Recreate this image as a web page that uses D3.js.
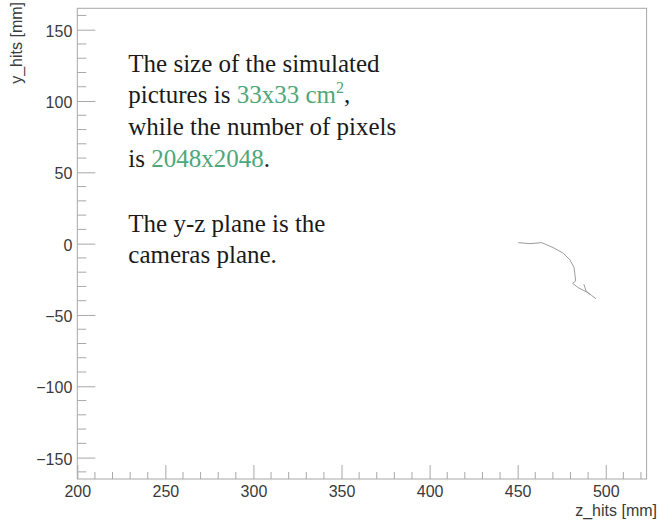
<!DOCTYPE html>
<html>
<head>
<meta charset="utf-8">
<script src="https://cdn.jsdelivr.net/npm/d3@7"></script>
<style>
  body { margin: 0; background: #fff; }
  .axis text { font-family: "Liberation Sans", Arial, sans-serif; fill: #3a3a3a; }
  .note { font-family: "Liberation Serif", "DejaVu Serif", serif; font-size: 25px; fill: #1a1a1a; }
  .green { fill: #4ea77a; }
</style>
</head>
<body>
<div id="chart"></div>
<script>
// track hits in the y-z plane (mm)
const trackZ = [450.3, 457.0, 463.6, 470.2, 475.9, 479.7, 482.0, 482.5, 482.9, 481.2, 484.4, 489.2, 492.0, 494.5];
const trackY = [0.7, 0.0, 0.7, -2.8, -6.7, -11.4, -16.8, -21.4, -26.2, -27.8, -30.9, -33.9, -36.3, -38.7];
// short side branch near the end of the track
const branchZ = [487.6, 488.8, 491.0];
const branchY = [-28.4, -33.1, -35.5];

const zDomain = [200, 523.2];
const yDomain = [-165, 165];
const xTicks = [200, 250, 300, 350, 400, 450, 500];
const yTicks = [-150, -100, -50, 0, 50, 100, 150];

const W = 660, H = 521;
const frame = {left: 77.3, right: 646.6, top: 8.3, bottom: 479};

const svg = d3.select("#chart").append("svg")
    .attr("width", W)
    .attr("height", H);

let x = d3.scaleLinear().domain(zDomain).range([frame.left, frame.right]);
let y = d3.scaleLinear().domain(yDomain).range([frame.bottom, frame.top]);

const lineCol = "#a8a8a8";

// frame
svg.append("rect")
    .attr("x", frame.left).attr("y", frame.top)
    .attr("width", frame.right - frame.left)
    .attr("height", frame.bottom - frame.top)
    .attr("fill", "none")
    .attr("stroke", lineCol)
    .attr("stroke-width", 1);

// minor ticks every 10 mm
const xMinor = d3.range(210, 523, 10).filter(v => v % 50 != 0);
const yMinor = d3.range(-160, 165, 10).filter(v => v % 50 != 0);

// x axis
let gx = svg.append("g")
    .attr("class", "axis")
    .attr("transform", "translate(0," + frame.bottom + ")");
gx.call(d3.axisBottom(x).tickValues(xTicks).tickSize(-14).tickPadding(6.5).tickFormat(d3.format("d")));
gx.call(g => g.select(".domain").remove());
gx.selectAll(".tick line").attr("stroke", lineCol);
gx.selectAll(".tick text").attr("font-size", 16);
gx.selectAll(".minor").data(xMinor).enter().append("line")
    .attr("class", "minor")
    .attr("x1", d => x(d)).attr("x2", d => x(d))
    .attr("y1", 0).attr("y2", -7)
    .attr("stroke", lineCol);

// y axis
let gy = svg.append("g")
    .attr("class", "axis")
    .attr("transform", "translate(" + frame.left + ",0)");
gy.call(d3.axisLeft(y).tickValues(yTicks).tickSize(-18).tickPadding(5)
    .tickFormat(d => d < 0 ? "\u2212" + Math.abs(d) : d));
gy.call(g => g.select(".domain").remove());
gy.selectAll(".tick line").attr("stroke", lineCol);
gy.selectAll(".tick text").attr("font-size", 16).attr("x", -5).attr("dy", "0.4em");
gy.selectAll(".minor").data(yMinor).enter().append("line")
    .attr("class", "minor")
    .attr("y1", d => y(d)).attr("y2", d => y(d))
    .attr("x1", 0).attr("x2", 9)
    .attr("stroke", lineCol);

// axis titles
svg.append("text")
    .attr("x", 657).attr("y", 516)
    .attr("text-anchor", "end")
    .style("font-family", "Liberation Sans, Arial, sans-serif")
    .style("font-size", "16px")
    .style("fill", "#3a3a3a")
    .text("z_hits [mm]");

svg.append("text")
    .attr("transform", "translate(21.5,2) rotate(-90)")
    .attr("text-anchor", "end")
    .style("font-family", "Liberation Sans, Arial, sans-serif")
    .style("font-size", "16px")
    .style("fill", "#3a3a3a")
    .text("y_hits [mm]");

// track
const line = d3.line().x(d => x(d[0])).y(d => y(d[1]));
svg.append("path")
    .datum(d3.zip(trackZ, trackY))
    .attr("d", line)
    .attr("fill", "none")
    .attr("stroke", "#909090")
    .attr("stroke-width", 0.9);
svg.append("path")
    .datum(d3.zip(branchZ, branchY))
    .attr("d", line)
    .attr("fill", "none")
    .attr("stroke", "#909090")
    .attr("stroke-width", 0.9);

// note text
const note = svg.append("text").attr("class", "note");
const lx = 128.3;
note.append("tspan").attr("x", lx).attr("y", 71.7).text("The size of the simulated");
let l2 = note.append("tspan").attr("x", lx).attr("y", 103.3);
l2.append("tspan").text("pictures is ");
l2.append("tspan").attr("class", "green").text("33x33 cm");
l2.append("tspan").attr("class", "green").attr("font-size", 16).attr("dy", -10).text("2");
l2.append("tspan").attr("dy", 10).text(",");
note.append("tspan").attr("x", lx).attr("y", 135).text("while the number of pixels");
let l4 = note.append("tspan").attr("x", lx).attr("y", 166.7);
l4.append("tspan").text("is ");
l4.append("tspan").attr("class", "green").text("2048x2048");
l4.append("tspan").text(".");
note.append("tspan").attr("x", lx).attr("y", 231.7).text("The y-z plane is the");
note.append("tspan").attr("x", lx).attr("y", 263.3).text("cameras plane.");
</script>
</body>
</html>
